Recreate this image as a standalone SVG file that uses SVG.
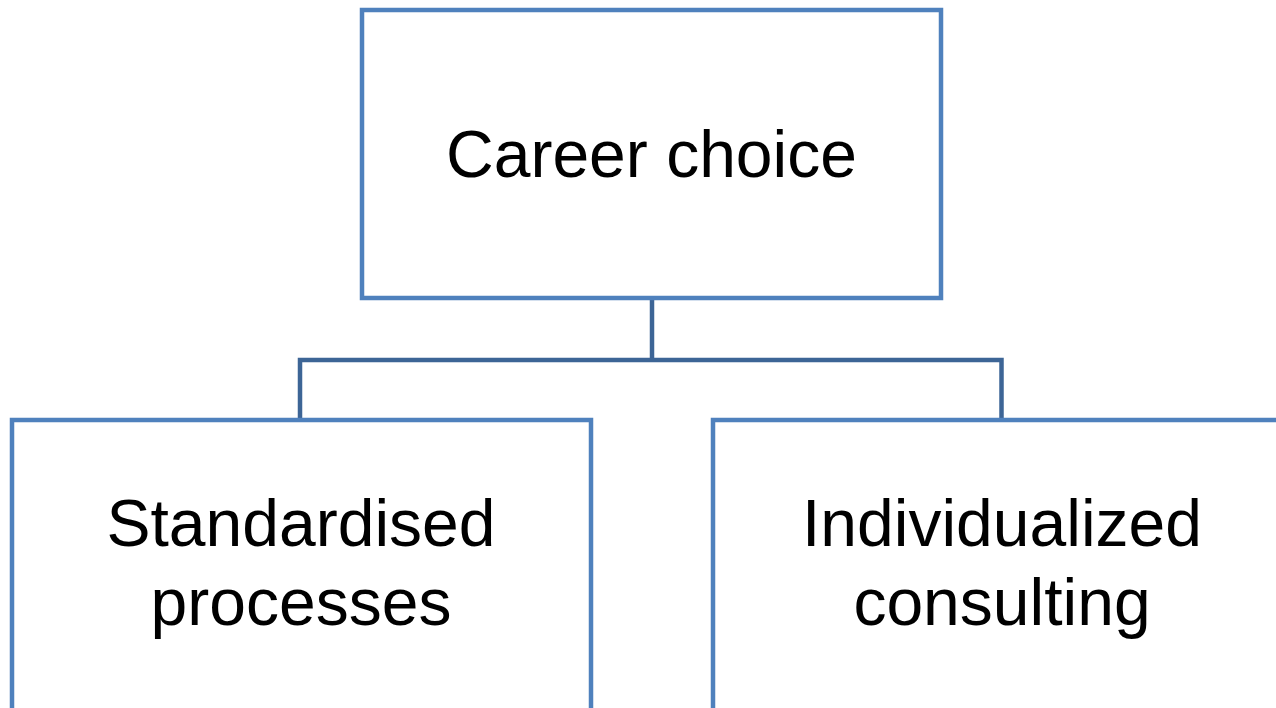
<svg xmlns="http://www.w3.org/2000/svg" width="1276" height="708" viewBox="0 0 1276 708">
<style>
.box{fill:#FFFFFF;stroke:#4F81BD;stroke-width:4.5}
.conn{fill:none;stroke:#3D6596;stroke-width:4.5}
.lbl{font-family:"Liberation Sans",Arial,sans-serif;font-size:66px;fill:#000000;text-anchor:middle}
</style>
<rect width="1276" height="708" fill="#FFFFFF"/>
<g id="connectors">
<path class="conn" d="M652,298 V360"/>
<path class="conn" d="M300,420 V360 H1001.5 V420"/>
</g>
<g id="node-career">
<rect class="box" x="362" y="10" width="579" height="288"/>
<text class="lbl" x="651.5" y="177">Career choice</text>
</g>
<g id="node-standardised">
<rect class="box" x="12" y="420" width="579" height="300"/>
<text class="lbl" x="301" y="546">Standardised</text>
<text class="lbl" x="301" y="625">processes</text>
</g>
<g id="node-individualized">
<rect class="box" x="713" y="420" width="579" height="300"/>
<text class="lbl" x="1002" y="546">Individualized</text>
<text class="lbl" x="1002" y="625">consulting</text>
</g>
</svg>
